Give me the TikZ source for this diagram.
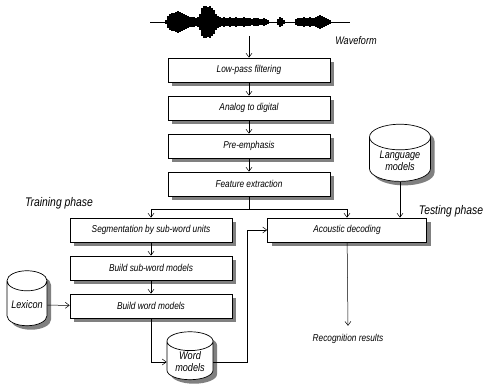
\documentclass[tikz,border=0pt]{standalone}
\usepackage{fontspec}
\newfontfamily\diagfont{Liberation Sans}[FakeStretch=0.83]
\usetikzlibrary{shapes.geometric, shadows, arrows.meta}

\begin{document}
\begin{tikzpicture}[x=1pt, y=-1pt,
  every node/.style={font=\diagfont\itshape\fontsize{10}{11}\selectfont},
  boxshadow/.style={drop shadow={shadow xshift=4pt, shadow yshift=-4pt, fill=black!50, opacity=1}},
  stage/.style={draw, line width=0.7pt, fill=white, minimum width=162pt, minimum height=24pt, inner sep=0pt, boxshadow},
  store/.style={cylinder, shape border rotate=90, aspect=0.6, draw, line width=0.7pt, fill=white, align=center, inner sep=1pt,
    font=\diagfont\itshape\fontsize{11}{12}\selectfont, boxshadow},
  flow/.style={-{Straight Barb[length=4pt, width=6pt]}, line width=0.5pt},
  phase/.style={font=\diagfont\itshape\fontsize{12.5}{14}\selectfont}]
  \useasboundingbox (0,0) rectangle (485,387);
  \draw[line width=0.4pt] (150,22) -- (350,22);
  \foreach \x/\a in {166/2, 168/6, 170/8, 172/9, 174/9, 176/10, 178/11, 180/10, 182/9, 184/8, 186/7, 188/6,
    190/5, 192/5, 194/5, 196/4, 198/5, 200/8, 202/14, 204/16, 206/16, 208/15, 210/16, 212/14, 214/12, 216/8,
    218/6, 220/5, 222/4, 224/5, 226/4, 228/4, 230/5, 232/4, 234/4, 236/5, 238/4, 240/4, 242/4, 244/5, 246/4,
    248/4, 250/4, 252/3, 254/4, 256/4, 258/4, 260/3, 262/3, 264/4, 266/3, 268/2, 278/3, 280/5, 282/4, 284/2,
    296/3, 298/4, 300/4, 302/4, 304/5, 306/4, 308/4, 310/5, 312/4, 314/4, 316/5, 318/6, 320/7, 322/6, 324/5,
    326/4, 328/3, 330/2}
    \fill (\x-1,22-\a) rectangle (\x+1,22+\a);
  \coordinate (wave) at (249,36);
  \node (waveform) [font=\diagfont\itshape\fontsize{11}{12}\selectfont] at (356,41) {Waveform};
  \node (lowpass) [stage] at (249,70) {Low-pass filtering};
  \node (adc) [stage] at (249,108) {Analog to digital};
  \node (preemph) [stage] at (249,146) {Pre-emphasis};
  \node (feature) [stage] at (249,184) {Feature extraction};
  \coordinate (split) at (249,209);
  \node (training) [phase] at (59,203) {Training phase};
  \node (testing) [phase] at (451,211) {Testing phase};
  \node (segment) [stage] at (151,230) {Segmentation by sub-word units};
  \node (subword) [stage] at (151,268) {Build sub-word models};
  \node (wordbuild) [stage] at (151,306) {Build word models};
  \node (acoustic) [stage, minimum width=159pt] at (347,230) {Acoustic decoding};
  \node (lexicon) [store, minimum width=40pt, minimum height=55pt] at (27,305) {Lexicon};
  \node (wordmod) [store, minimum width=46pt, minimum height=45pt] at (190,362) {Word\\models};
  \node (langmod) [store, minimum width=61pt, minimum height=53pt] at (400,161) {Language\\models};
  \node (results) at (348,339) {Recognition results};
  \draw[flow] (wave) -- (lowpass);
  \draw[flow] (lowpass) -- (adc);
  \draw[flow] (adc) -- (preemph);
  \draw[flow] (preemph) -- (feature);
  \draw (feature) -- (split);
  \draw[flow] (split) -| (segment);
  \draw[flow] (split) -| (acoustic);
  \draw[flow] (segment) -- (subword);
  \draw[flow] (subword) -- (wordbuild);
  \draw[flow] (lexicon) -- (wordbuild);
  \draw[flow] (wordbuild) |- (wordmod);
  \draw[flow] (wordmod) -| ([xshift=-20pt]acoustic.west) -- (acoustic);
  \draw[flow] (langmod) -- (langmod |- acoustic.north);
  \draw[flow] (acoustic) -- ([yshift=5pt]results.north);
\end{tikzpicture}
\end{document}
